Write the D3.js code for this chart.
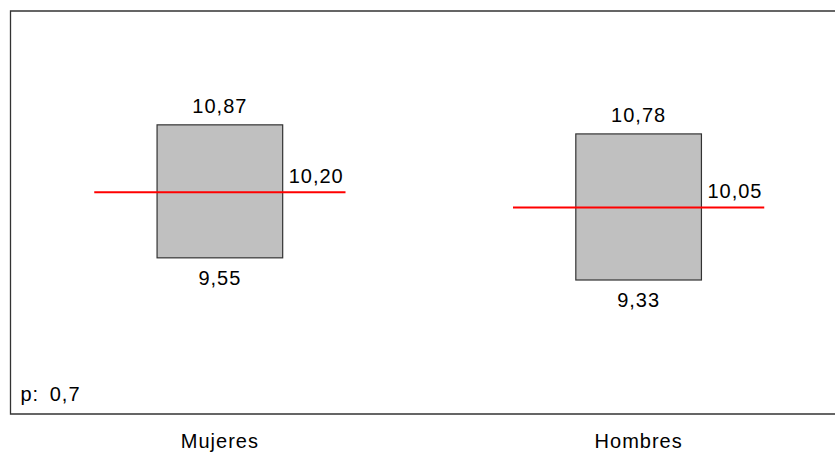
<!DOCTYPE html>
<html>
<head>
<meta charset="utf-8">
<script src="https://cdn.jsdelivr.net/npm/d3@7"></script>
<style>
  html, body { margin: 0; padding: 0; background: #fff; }
  svg { display: block; }
  text { font-family: Arial, "Liberation Sans", sans-serif; font-size: 20px; letter-spacing: 1px; fill: #000; }
</style>
</head>
<body>
<svg id="chart" width="835" height="452"></svg>
<script>
// Groups and their interval values
const categories = ["Mujeres", "Hombres"];
const upper = [10.87, 10.78];
const mean = [10.20, 10.05];
const lower = [9.55, 9.33];
const pLabel = "p: 0,7";
const yDomain = [8, 12];

const fmt = v => d3.format(".2f")(v).replace(".", ",");

const svg = d3.select("#chart");
const frame = { left: 10.5, top: 11, right: 848, bottom: 414 };

const x = d3.scaleBand().domain(categories).range([frame.left, frame.right]).padding(0);
const y = d3.scaleLinear().domain(yDomain).range([frame.bottom, frame.top]);

const bw = x.bandwidth();
const boxW = bw * 0.3;
const lineW = bw * 0.6;

const data = categories.map((c, i) => ({ c, hi: upper[i], m: mean[i], lo: lower[i] }));

// plot frame (open on the right, it runs past the page edge)
svg.append("path")
  .attr("d", `M${frame.right},${frame.top}H${frame.left}V${frame.bottom}H${frame.right}`)
  .attr("fill", "none")
  .attr("stroke", "#333")
  .attr("stroke-width", 1.3);

const g = svg.selectAll("g.grp").data(data).join("g").attr("class", "grp");

g.append("rect")
  .attr("x", d => x(d.c) + bw / 2 - boxW / 2)
  .attr("y", d => y(d.hi))
  .attr("width", boxW)
  .attr("height", d => y(d.lo) - y(d.hi))
  .attr("fill", "#c0c0c0")
  .attr("stroke", "#333")
  .attr("stroke-width", 1.2);

g.append("line")
  .attr("x1", d => x(d.c) + bw / 2 - lineW / 2)
  .attr("x2", d => x(d.c) + bw / 2 + lineW / 2)
  .attr("y1", d => y(d.m))
  .attr("y2", d => y(d.m))
  .attr("stroke", "#ff0000")
  .attr("stroke-width", 2);

g.append("text")
  .attr("x", d => x(d.c) + bw / 2)
  .attr("y", d => y(d.hi) - 12)
  .attr("text-anchor", "middle")
  .text(d => fmt(d.hi));

g.append("text")
  .attr("x", d => x(d.c) + bw / 2)
  .attr("y", d => y(d.lo) + 27)
  .attr("text-anchor", "middle")
  .text(d => fmt(d.lo));

g.append("text")
  .attr("x", d => x(d.c) + bw / 2 + boxW / 2 + 6)
  .attr("y", d => y(d.m) - 9)
  .text(d => fmt(d.m));

// category axis labels
const xAxis = d3.axisBottom(x).tickSize(0).tickPadding(0);
const ax = svg.append("g").attr("transform", `translate(0,${frame.bottom})`).call(xAxis);
ax.select(".domain").remove();
ax.selectAll("text")
  .attr("dy", null)
  .attr("y", 34)
  .attr("font-family", "Arial, 'Liberation Sans', sans-serif")
  .attr("font-size", 20)
  .attr("fill", "#000");

svg.append("text")
  .attr("x", 20.5)
  .attr("y", 401)
  .attr("word-spacing", "4px")
  .text(pLabel);
</script>
</body>
</html>
